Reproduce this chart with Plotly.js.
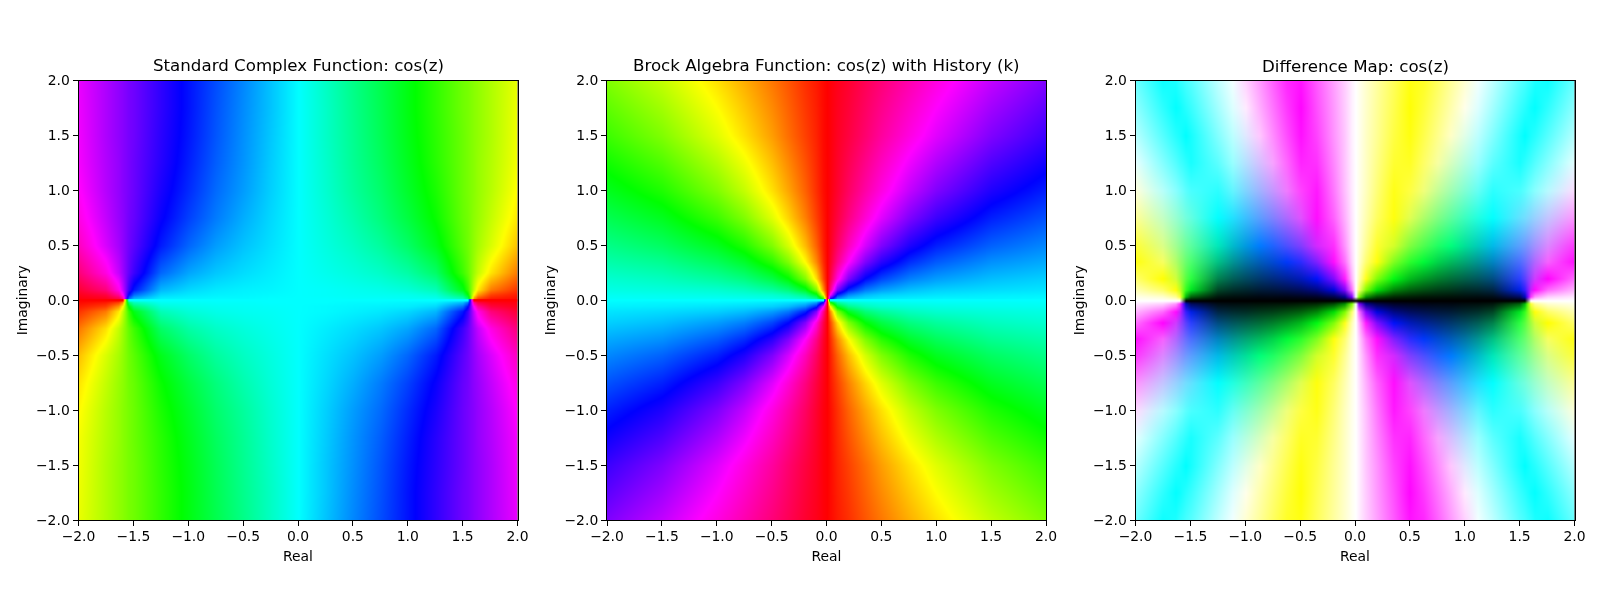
<!DOCTYPE html>
<html>
<head>
<meta charset="utf-8">
<script src="https://cdn.plot.ly/plotly-3.0.1.min.js"></script>
<style>html,body{margin:0;padding:0;background:#fff}#chart{width:1600px;height:600px}</style>
</head>
<body>
<div id="chart"></div>
<script>
// Titles and labels
const panelTitles = ["Standard Complex Function: cos(z)", "Brock Algebra Function: cos(z) with History (k)", "Difference Map: cos(z)"];
const xLabel = "Real";
const yLabel = "Imaginary";

// Left panel: hue in degrees, read on an uneven grid (upper half plane)
const stdX = [-2,-1.75,-1.64,-1.6,-1.57,-1.54,-1.5,-1.25,-1,-0.75,-0.5,-0.25,0,0.25,0.5,0.75,1,1.25,1.5,1.54,1.57,1.6,1.64,1.75,2];
const stdY = [0,0.02,0.05,0.1,0.25,0.5,0.75,1,1.25,1.5,1.75,2];
const stdHue = [
 [360,360,360,360,270,180,180,180,180,180,180,180,180,180,180,180,180,180,180,180,90,0,0,0,0],
 [358,354,344,326,268,213,196,183,182,181,181,180,180,180,179,179,178,177,164,147,92,34,16,6,3],
 [354,345,324,300,269,238,215,189,185,183,182,181,180,179,178,177,176,171,145,122,91,60,36,15,6],
 [348,331,305,286,270,253,235,197,189,185,183,182,180,179,177,175,171,163,125,107,91,74,55,29,12],
 [332,307,286,277,270,263,254,216,201,193,188,184,180,176,172,167,159,144,106,97,90,83,74,54,28],
 [315,291,279,274,270,266,261,234,216,203,194,187,180,173,166,157,144,126,99,94,90,86,81,69,45],
 [306,286,276,273,270,267,264,242,225,211,199,189,180,171,161,149,135,118,96,93,90,87,84,74,54],
 [301,283,275,272,270,268,265,246,230,215,203,191,180,169,157,145,130,114,95,92,90,88,85,77,59],
 [298,282,275,272,270,268,265,249,233,218,205,192,180,168,155,142,127,111,95,92,90,88,85,78,62],
 [297,281,274,272,270,268,266,250,235,220,206,193,180,167,154,140,125,110,95,92,90,88,86,79,63],
 [296,281,274,272,270,268,266,251,236,221,207,194,180,167,153,139,124,109,94,92,90,88,86,79,64],
 [295,281,274,272,270,268,266,251,236,222,208,194,180,166,152,138,124,109,94,92,90,88,86,79,65]
];

// Middle panel: hue in degrees, unwrapped past 360 (upper half plane)
const brockX = [-2,-1.5,-1,-0.75,-0.5,-0.35,-0.2,-0.1,-0.03,0,0.03,0.1,0.2,0.35,0.5,0.75,1,1.5,2];
const brockY = [0,0.02,0.05,0.1,0.2,0.35,0.5,0.75,1,1.5,2];
const brockHue = [
 [540,540,540,540,540,540,540,540,540,360,180,180,180,180,180,180,180,180,180],
 [539,538,538,537,535,533,529,517,473,360,247,203,191,187,185,183,182,182,181],
 [537,536,534,532,529,524,512,487,422,360,298,233,208,196,191,188,186,184,183],
 [534,532,529,525,517,508,487,450,393,360,327,270,233,212,203,195,191,188,186],
 [529,525,517,510,496,481,450,413,377,360,343,307,270,239,224,210,203,195,191],
 [520,514,501,490,470,450,419,392,370,360,350,328,301,270,250,230,219,206,200],
 [512,503,487,473,450,430,404,383,367,360,353,337,316,290,270,247,233,217,208],
 [499,487,466,450,427,410,390,375,365,360,355,345,330,310,293,270,254,233,221],
 [487,473,450,434,413,399,383,371,363,360,357,349,337,321,307,286,270,247,233],
 [466,450,427,413,397,386,375,368,362,360,358,352,345,334,323,307,293,270,254],
 [450,434,413,401,388,380,371,366,362,360,358,354,349,340,332,319,307,286,270]
];

// Right panel: colour channels 0..1 read for the upper right quadrant
const diffX = [0,0.03,0.1,0.2,0.35,0.5,0.62,0.75,0.87,1,1.12,1.25,1.5,1.54,1.57,1.6,1.64,1.75,2];
const diffY = [0,0.03,0.1,0.2,0.35,0.5,0.75,1,1.25,1.5,1.75,2];
const diffRed = [
 [0,0,0,0,0,0,0,0,0,0,0,0,0,0,0.5,1,1,1,1],
 [1,0.5,0,0,0,0,0,0,0,0,0,0,0,0,0.48,1,1,1,1],
 [1,1,0.5,0,0,0,0,0,0,0,0,0,0,0.21,0.49,0.77,1,1,1],
 [1,1,1,0.5,0,0,0,0,0,0,0,0,0.17,0.35,0.5,0.64,0.82,1,1],
 [1,1,1,1,0.5,0.17,0,0,0,0,0,0,0.3,0.41,0.5,0.58,0.7,0.97,1],
 [1,1,1,1,0.83,0.5,0.3,0.12,0,0,0,0,0.36,0.44,0.5,0.56,0.64,0.86,1],
 [1,1,1,1,1,0.88,0.68,0.5,0.36,0.23,0.13,0.01,0.39,0.45,0.5,0.54,0.6,0.77,1],
 [1,1,1,1,1,1,0.94,0.77,0.63,0.5,0.39,0.17,0.29,0.36,0.42,0.47,0.54,0.72,1],
 [1,1,1,1,1,1,1,0.97,0.84,0.71,0.6,0.36,0.09,0.17,0.22,0.26,0.33,0.52,0.9],
 [1,1,1,1,1,1,1,1,1,0.88,0.74,0.51,0.08,0,0.05,0.1,0.15,0.34,0.72],
 [1,1,1,1,1,1,1,1,1,1,0.87,0.64,0.22,0.15,0.1,0.05,0.01,0.18,0.56],
 [1,1,1,1,1,1,1,1,1,1,0.95,0.75,0.34,0.28,0.23,0.19,0.11,0.05,0.42]
];
const diffGreen = [
 [0,0,0,0,0,0,0,0,0,0,0,0,0,0,0.5,1,1,1,1],
 [1,1,0.56,0.29,0.16,0.12,0.09,0.08,0.07,0.06,0.05,0.05,0.04,0.04,0.04,0.21,0.58,0.81,0.91],
 [1,1,1,0.88,0.53,0.38,0.31,0.25,0.22,0.18,0.17,0.15,0.13,0.12,0.12,0.12,0.04,0.4,0.7],
 [1,1,1,1,0.98,0.73,0.6,0.5,0.43,0.38,0.34,0.3,0.25,0.25,0.25,0.24,0.23,0.01,0.43],
 [1,1,1,1,1,1,0.98,0.83,0.73,0.65,0.58,0.52,0.43,0.43,0.42,0.41,0.4,0.38,0.06],
 [1,1,1,1,1,1,1,1,1,0.88,0.8,0.73,0.62,0.6,0.58,0.58,0.57,0.53,0.22],
 [1,1,1,1,1,1,1,1,1,1,1,1,0.88,0.87,0.85,0.83,0.82,0.77,0.58],
 [1,1,1,1,1,1,1,1,1,1,1,1,1,1,1,1,1,0.98,0.86],
 [1,1,1,1,1,1,1,1,1,1,1,1,1,1,1,1,1,1,1],
 [1,1,1,1,1,1,1,1,1,1,1,1,1,1,1,1,1,1,1],
 [1,1,1,1,1,1,1,1,1,1,1,1,1,1,1,1,1,1,1],
 [1,1,1,1,1,1,1,1,1,1,1,1,1,1,1,1,1,1,1]
];
const diffBlue = [
 [0,0,0,0,0,0,0,0,0,0,0,0,0,0,0.5,1,1,1,1],
 [1,0,0,0.01,0.01,0.02,0.02,0.03,0.03,0.05,0.06,0.09,0.38,0.74,1,1,1,1,1],
 [1,0.44,0.01,0.02,0.03,0.05,0.07,0.09,0.11,0.15,0.19,0.28,0.91,1,1,1,1,1,1],
 [1,0.71,0.1,0.04,0.07,0.1,0.13,0.17,0.22,0.29,0.37,0.51,1,1,1,1,1,1,1],
 [1,0.83,0.44,0.05,0.12,0.17,0.22,0.29,0.36,0.46,0.58,0.76,1,1,1,1,1,1,1],
 [1,0.87,0.58,0.18,0.16,0.24,0.31,0.39,0.48,0.6,0.73,0.91,1,1,1,1,1,1,1],
 [1,0.9,0.69,0.38,0.05,0.32,0.41,0.51,0.62,0.75,0.88,1,1,1,1,1,1,1,1],
 [1,0.92,0.75,0.47,0.09,0.26,0.48,0.59,0.7,0.83,0.96,1,1,1,1,1,1,1,1],
 [1,0.93,0.77,0.53,0.19,0.14,0.4,0.64,0.75,0.88,1,1,1,1,1,1,1,1,1],
 [1,0.94,0.78,0.58,0.26,0.06,0.3,0.55,0.78,0.91,1,1,1,1,1,1,1,1,1],
 [1,0.94,0.8,0.6,0.31,0.02,0.22,0.46,0.68,0.92,1,1,1,1,1,1,1,1,1],
 [1,0.94,0.81,0.63,0.35,0.07,0.15,0.38,0.6,0.82,1,1,1,1,1,1,1,1,1]
];

// Hue wheel used by the two left panels
const hueMin = -180, hueMax = 540;
const wheel = ["#00ffff","#0000ff","#ff00ff","#ff0000","#ffff00","#00ff00","#00ffff","#0000ff","#ff00ff","#ff0000","#ffff00","#00ff00","#00ffff"];
const wheelScale = wheel.map((c, i) => [i / (wheel.length - 1), c]);

// The lower half plane is the mirror image of the upper half
const flipRows = rows => rows.slice().reverse();
const mirrorHue = rows => flipRows(rows).map(r => r.map(h => 360 - h));
const negY = ys => ys.slice().reverse().map(v => -v);
const hueTrace = (x, y, z, ax) => ({type:"heatmap", x, y, z, zmin:hueMin, zmax:hueMax, zsmooth:"best",
  colorscale:wheelScale, showscale:false, hoverinfo:"skip", xaxis:"x"+ax, yaxis:"y"+ax});

// Right panel: rebuild whole rows from the quadrant
const mirrorX = diffX.slice(1).reverse().map(v => -v).concat(diffX);
const joinRows = (leftRows, rightRows) => rightRows.map((r, i) => leftRows[i].slice(1).reverse().concat(r));
const upR = joinRows(diffRed, diffRed), upG = joinRows(diffBlue, diffGreen), upB = joinRows(diffGreen, diffBlue);
const fullY = negY(diffY).slice(0, -1).concat(diffY);
const fullR = flipRows(upR).slice(0, -1).concat(upR);
const fullG = flipRows(upB).slice(0, -1).concat(upG);
const fullB = flipRows(upG).slice(0, -1).concat(upB);
const channelTrace = (z, col) => ({type:"heatmap", x:mirrorX, y:fullY, z, zmin:0, zmax:1, zsmooth:"best",
  colorscale:[[0,"#000000"],[1,col]], showscale:false, hoverinfo:"skip", xaxis:"x3", yaxis:"y3"});

const traces = [
  hueTrace(stdX, stdY, stdHue, ""), hueTrace(stdX, negY(stdY), mirrorHue(stdHue), ""),
  hueTrace(brockX, brockY, brockHue, "2"), hueTrace(brockX, negY(brockY), mirrorHue(brockHue), "2"),
  channelTrace(fullR, "#ff0000"), channelTrace(fullG, "#00ff00"), channelTrace(fullB, "#0000ff")
];

const W = 1600, H = 600, labelFont = "DejaVu Sans, sans-serif";
const panelLefts = [78.5, 607, 1135.5], panelRights = [517.5, 1046, 1574.5], panelTop = 80.5, panelBottom = 520;
const axisBase = {range:[-2,2], dtick:0.5, tick0:-2, tickformat:".1f", ticks:"outside", ticklen:5, tickwidth:1,
  tickcolor:"#000", showline:true, mirror:true, linecolor:"#000", linewidth:1, showgrid:false, zeroline:false,
  tickfont:{family:labelFont, size:13.9, color:"#000"}, layer:"above traces"};
const layout = {width:W, height:H, margin:{l:0,r:0,t:0,b:0}, paper_bgcolor:"#fff", plot_bgcolor:"#000", showlegend:false,
  font:{family:labelFont, color:"#000"}, annotations:[]};
panelLefts.forEach((l, i) => {
  const s = i ? String(i + 1) : "";
  layout["xaxis"+s] = Object.assign({}, axisBase, {domain:[l/W, panelRights[i]/W], anchor:"y"+s, ticklabelstandoff:-2,
    title:{text:xLabel, font:{family:labelFont, size:13.9, color:"#000"}, standoff:8}});
  layout["yaxis"+s] = Object.assign({}, axisBase, {domain:[1-panelBottom/H, 1-panelTop/H], anchor:"x"+s,
    title:{text:yLabel, font:{family:labelFont, size:13.9, color:"#000"}, standoff:5}});
  layout.annotations.push({text:panelTitles[i], xref:"paper", yref:"paper", x:(l+panelRights[i])/2/W, y:1-panelTop/H,
    xanchor:"center", yanchor:"bottom", yshift:3, showarrow:false, font:{family:labelFont, size:16.67, color:"#000"}});
});

Plotly.newPlot("chart", traces, layout, {displayModeBar:false, staticPlot:true}).then(gd => {
  // Add the three colour channels of the right panel together
  gd.querySelectorAll(".x3y3 .hm image").forEach(im => { im.style.mixBlendMode = "screen"; });
});
</script>
</body>
</html>
